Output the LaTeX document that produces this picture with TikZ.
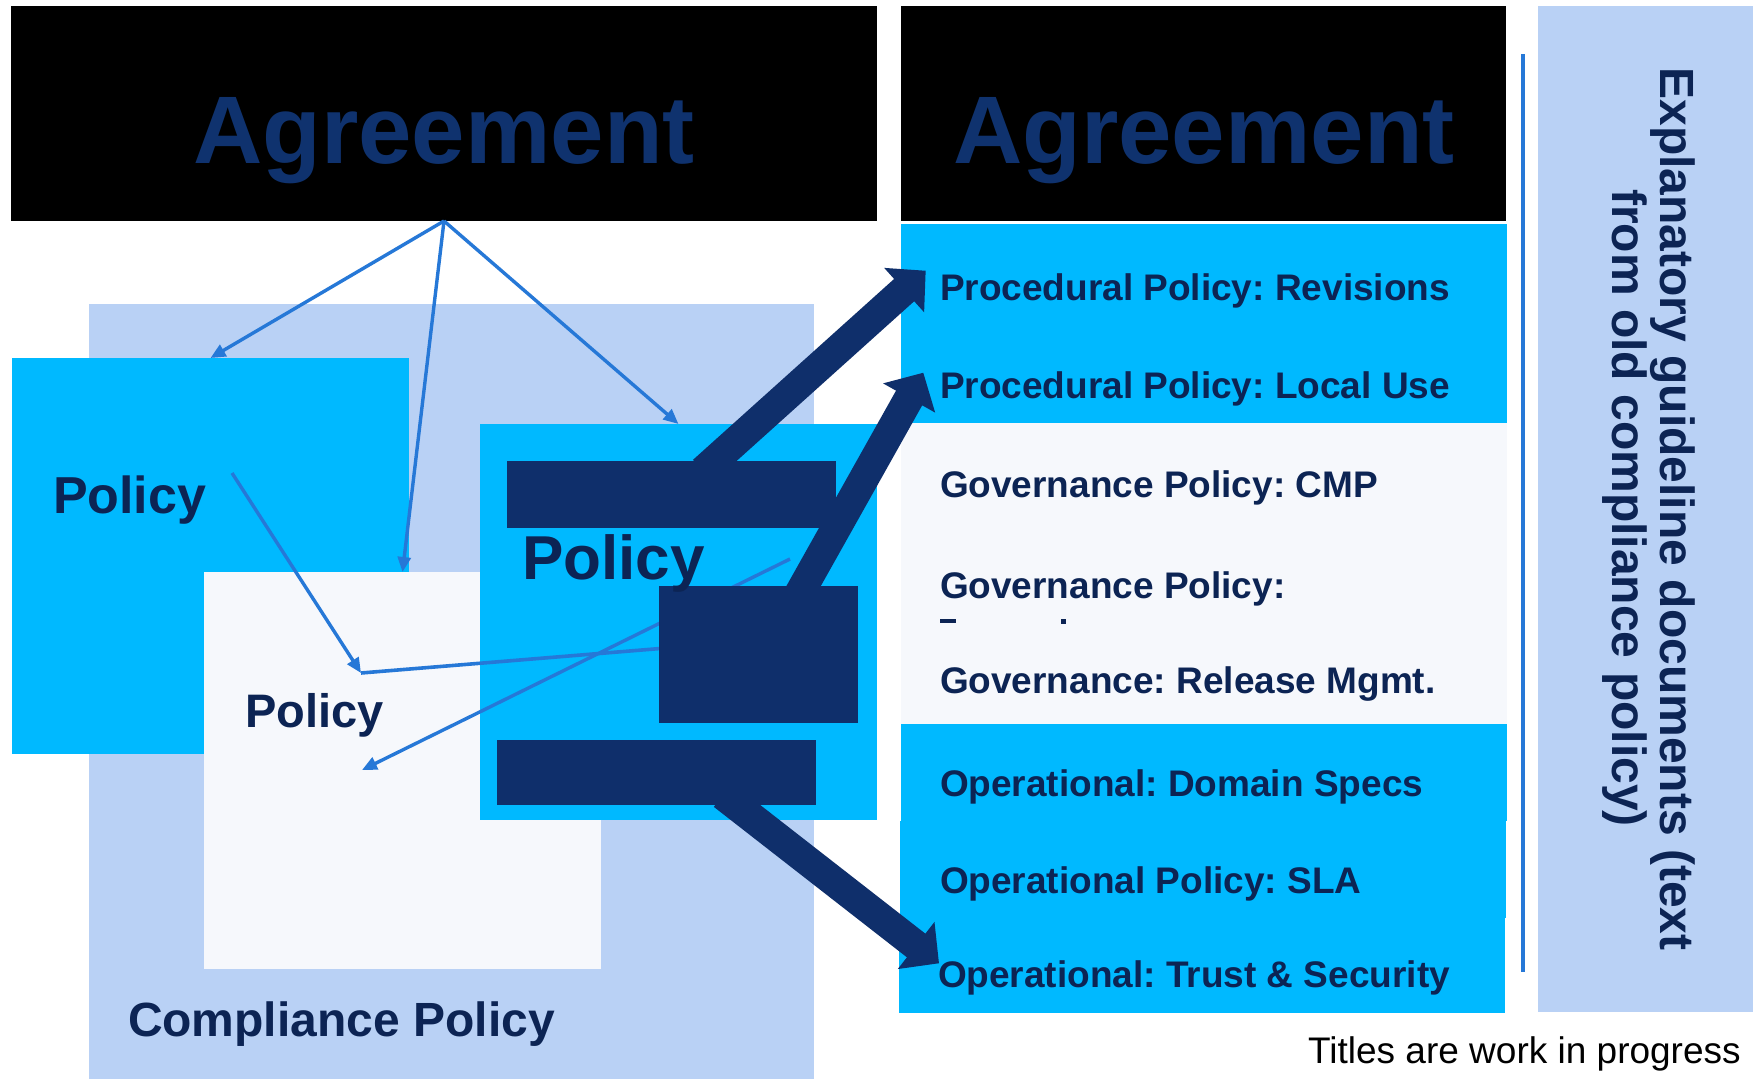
\documentclass[tikz,border=0pt]{standalone}
\usepackage{fontspec}
\setmainfont{Liberation Sans}
\usetikzlibrary{arrows.meta}
\definecolor{navytext}{RGB}{12,36,84}
\definecolor{agtext}{RGB}{15,50,110}
\definecolor{navyfill}{RGB}{15,47,107}
\definecolor{cyanbox}{RGB}{0,185,255}
\definecolor{lightbox}{RGB}{185,209,245}
\definecolor{paleboxc}{RGB}{246,248,252}
\definecolor{thinblue}{RGB}{38,120,215}
\newcommand{\fsz}[1]{\fontsize{#1}{#1}\selectfont}
\frenchspacing
\begin{document}
\frenchspacing
\begin{tikzpicture}[x=1pt,y=-1pt,
  boxbase/.style={draw=none,inner sep=0pt,outer sep=0pt,anchor=north west},
  blackbox/.style={boxbase,fill=black},
  cyanrect/.style={boxbase,fill=cyanbox},
  lightrect/.style={boxbase,fill=lightbox},
  palerect/.style={boxbase,fill=paleboxc},
  navyrect/.style={boxbase,fill=navyfill},
  txt/.style={inner sep=0pt,outer sep=0pt,anchor=base west,text=navytext,font=\bfseries},
  agreetxt/.style={inner sep=0pt,outer sep=0pt,anchor=base,text=agtext,font=\bfseries\fsz{96}},
  listtxt/.style={txt,font=\bfseries\fsz{37}},
  thinarrow/.style={draw=thinblue,line width=3.4pt,-{Triangle[length=15pt,width=13pt]}},
  thinline/.style={draw=thinblue,line width=3.6pt},
  thickarrow/.style={draw=navyfill,line width=30pt,-{Triangle[length=29pt,width=58pt]}}
]
\useasboundingbox (0,0) rectangle (1753,1079);
\fill[white] (0,0) rectangle (1753,1079);

% top black boxes
\node[blackbox,minimum width=866pt,minimum height=215pt] (agl) at (11,6) {};
\node[blackbox,minimum width=605pt,minimum height=215pt] (agr) at (901,6) {};

% right explanatory panel and vertical line
\node[lightrect,minimum width=215pt,minimum height=1006pt] (expl) at (1538,6) {};
\draw[draw=thinblue,line width=3.5pt] (1523,54) -- (1523,972);

% compliance area
\node[lightrect,minimum width=725pt,minimum height=775pt] (comp) at (89,304) {};
\node[cyanrect,minimum width=397pt,minimum height=396pt] (pl) at (12,358) {};
\node[palerect,minimum width=397pt,minimum height=397pt] (pw) at (204,572) {};
\node[cyanrect,minimum width=397pt,minimum height=396pt] (pr) at (480,424) {};

% thin connectors
\coordinate (c1) at (232,473);
\coordinate (c2) at (361,673);
\coordinate (c3) at (790,559);
\coordinate (c4) at (362,770);
\coordinate (c5) at (659,648.6);
\draw[thinarrow] (agl.south) -- (pl.north);
\draw[thinarrow] (agl.south) -- (pw.north);
\draw[thinarrow] (agl.south) -- (pr.north);
\draw[thinarrow] (c1) -- (c2);
\draw[thinline] (c5) -- (c2);
\draw[thinarrow] (c3) -- (c4);

% navy blocks
\node[navyrect,minimum width=329pt,minimum height=67pt] (r1) at (507,461) {};
\node[navyrect,minimum width=199pt,minimum height=137pt] (r2) at (659,586) {};
\node[navyrect,minimum width=319pt,minimum height=65pt] (r3) at (497,740) {};

% right list boxes
\node[cyanrect,minimum width=606pt,minimum height=199pt] (L1) at (901,224) {};
\node[palerect,minimum width=606pt,minimum height=301pt] (L2) at (901,423) {};
\node[cyanrect,minimum width=606pt,minimum height=97pt] (L3) at (901,724) {};
\node[cyanrect,minimum width=605.5pt,minimum height=97pt] (L4) at (900,821) {};
\node[cyanrect,minimum width=606pt,minimum height=95pt] (L5) at (899,918) {};

% thick arrows
\coordinate (t1s) at (703,471);
\coordinate (t1e) at (925.7,270.7);
\coordinate (t2s) at (798,596);
\coordinate (t2e) at (923.3,372.7);
\coordinate (t3s) at (723,795);
\coordinate (t3e) at (939,963.3);
\draw[thickarrow] (t1s) -- (t1e);
\draw[thickarrow] (t2s) -- (t2e);
\draw[thickarrow] (t3s) -- (t3e);

% texts
\node[agreetxt] (agltxt) at (444,163) {Agreement};
\node[agreetxt] (agrtxt) at (1204,163) {Agreement};
\node[txt,font=\bfseries\fsz{52}] (pltxt) at (53,513) {Policy};
\node[txt,font=\bfseries\fsz{47}] (pwtxt) at (245,727) {Policy};
\node[txt,font=\bfseries\fsz{62}] (prtxt) at (522,579) {Policy};
\node[txt,font=\bfseries\fsz{48}] (comptxt) at (128,1036) {Compliance Policy};

\node[listtxt] (i1) at (940,300) {Procedural Policy: Revisions};
\node[listtxt] (i2) at (940,398) {Procedural Policy: Local Use};
\node[listtxt] (i3) at (940,497) {Governance Policy: CMP};
\node[listtxt] (i4) at (940,598) {Governance Policy:};
\fill[navytext] (940,619) rectangle (956,623);
\fill[navytext] (1061,619) rectangle (1066,624);
\node[listtxt] (i5) at (940,693) {Governance: Release Mgmt.};
\node[listtxt] (i6) at (940,796) {Operational: Domain Specs};
\node[listtxt] (i7) at (940,893) {Operational Policy: SLA};
\node[listtxt] (i8) at (938,987) {Operational: Trust \& Security};

\node[inner sep=0pt,anchor=base,rotate=-90,text=navytext,font=\bfseries\fsz{48}] (ex1) at (1660,509) {Explanatory guideline documents (text};
\node[inner sep=0pt,anchor=base,rotate=-90,text=navytext,font=\bfseries\fsz{48}] (ex2) at (1612,508) {from old compliance policy)};

\node[inner sep=0pt,anchor=base west,text=black,font=\fsz{37}] (titles) at (1308,1063) {Titles are work in progress};
\end{tikzpicture}
\end{document}
